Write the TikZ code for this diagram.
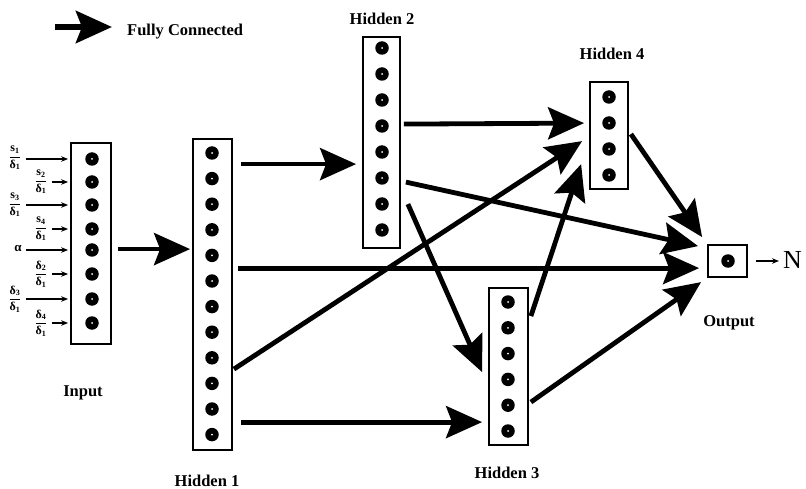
\documentclass[tikz,border=0pt]{standalone}
\usepackage{amsmath}
\usepackage{fontspec}
\setmainfont{Liberation Serif}
\usetikzlibrary{arrows.meta,calc}

% input ratio label: #1 numerator letter, #2 its index
\newcommand{\inrat}[2]{$\dfrac{\textbf{#1}_{\textbf{#2}}}{\textbf{δ}_{\textbf{1}}}$}

\begin{document}
\begin{tikzpicture}[x=1pt,y=-1pt,
  layerbox/.style n args={2}{draw, line width=1.8pt, inner sep=0pt,
    minimum width=#1, minimum height=#2},
  neuron/.style={circle, fill=black, minimum size=13.5pt, inner sep=0pt,
    path picture={\fill[white] (path picture bounding box.center) circle (1pt);}},
  bighead/.style={-{Stealth[length=36pt,width=32pt,inset=6pt]}},
  fc/.style={line width=4.8pt, bighead},
  feed/.style={line width=1.1pt, -{Stealth[length=7pt,width=5.5pt]}},
  lbl/.style={font=\fontsize{16.5}{18}\selectfont\bfseries, inner sep=0pt},
  frac/.style={font=\fontsize{12}{13}\selectfont, inner sep=1pt}
]
\useasboundingbox (0,0) rectangle (806,489);

% ---------- legend ----------
\coordinate (lg0) at (55,27);
\coordinate (lg1) at (112,27);
\draw[line width=6.5pt, bighead] (lg0) -- (lg1);
\node[lbl, anchor=base west] (lgtext) at (127,36) {Fully Connected};

% ---------- layer boxes ----------
\node[layerbox={40pt}{201pt}] (in)  at (91,243.5) {};
\node[layerbox={39pt}{311pt}] (h1)  at (212.5,294.5) {};
\node[layerbox={37pt}{211pt}] (h2)  at (381.5,142.5) {};
\node[layerbox={39pt}{157pt}] (h3)  at (508.5,366.5) {};
\node[layerbox={38pt}{107pt}] (h4)  at (609,135.5) {};
\node[layerbox={39pt}{32pt}]  (out) at (727.5,261) {};

% ---------- neurons ----------
\foreach \k/\yy in {1/159,2/182,3/205,4/229,5/250,6/274,7/299,8/323}
  \node[neuron] (inn\k) at (92,\yy) {};
\foreach \k in {0,...,11}
  \node[neuron] (h1n\k) at (212,{153+25.6*\k}) {};
\foreach \k in {0,...,7}
  \node[neuron] (h2n\k) at (382,{48+26*\k}) {};
\foreach \k in {0,...,5}
  \node[neuron] (h3n\k) at (508,{302+25.8*\k}) {};
\foreach \k in {0,...,3}
  \node[neuron] (h4n\k) at (609,{97+26*\k}) {};
\node[neuron] (outn) at (728,261) {};

% ---------- input labels and feeds ----------
\node[frac] (lab1) at (15,158) {\inrat{s}{1}};
\node[frac] (lab2) at (41,182) {\inrat{s}{2}};
\node[frac] (lab3) at (15,205) {\inrat{s}{3}};
\node[frac] (lab4) at (41,229) {\inrat{s}{4}};
\node[frac, font=\fontsize{13}{13}\selectfont\bfseries] (lab5) at (18,249) {α};
\node[frac] (lab6) at (41,274) {\inrat{δ}{2}};
\node[frac] (lab7) at (15,299) {\inrat{δ}{3}};
\node[frac] (lab8) at (41,323) {\inrat{δ}{4}};
\foreach \k in {1,...,8}
  \draw[feed] ([xshift=3pt]lab\k.east |- inn\k) -- ([xshift=-2pt]in.west |- inn\k);

% ---------- output ----------
\coordinate (nend) at (779,261);
\draw[feed] ([xshift=8pt]out.east) -- (nend);
\node[font=\fontsize{26}{26}\selectfont, inner sep=0pt, anchor=base west] (nlab) at (783,269) {N};

% ---------- fully connected links ----------
\draw[fc] ([shift={(6,107)}]in.north east) -- ([shift={(-2,111)}]h1.north west);
\draw[fc] ([shift={(8,26)}]h1.north east)  -- ([shift={(-6,128)}]h2.north west);
\draw[fc] ([shift={(5,130)}]h1.north east) -- ([shift={(-8,24)}]out.north west);
\draw[fc] ([shift={(1,231)}]h1.north east) -- ([shift={(-7,60)}]h4.north west);
\draw[fc] ([shift={(8,284)}]h1.north east) -- ([shift={(-6,135)}]h3.north west);
\draw[fc] ([shift={(3,88)}]h2.north east)  -- ([shift={(-5,42)}]h4.north west);
\draw[fc] ([shift={(5,146)}]h2.north east) -- ([shift={(-9,2)}]out.north west);
\draw[fc] ([shift={(7,168)}]h2.north east) -- ([shift={(-6,85)}]h3.north west);
\draw[fc] ([shift={(2,29)}]h3.north east)  -- ([shift={(-8,83)}]h4.north west);
\draw[fc] ([shift={(2,115)}]h3.north east) -- ([shift={(-6,38)}]out.north west);
\draw[fc] ([shift={(2,53)}]h4.north east)  -- ([shift={(-5,-7)}]out.north west);

% ---------- layer titles ----------
\node[lbl, anchor=base] (tin) at (83,396)  {Input};
\node[lbl, anchor=base] (th1) at (207,486) {Hidden 1};
\node[lbl, anchor=base] (th2) at (382,25)  {Hidden 2};
\node[lbl, anchor=base] (th3) at (507,478) {Hidden 3};
\node[lbl, anchor=base] (th4) at (612,60)  {Hidden 4};
\node[lbl, anchor=base] (tout) at (729,326) {Output};
\end{tikzpicture}
\end{document}
